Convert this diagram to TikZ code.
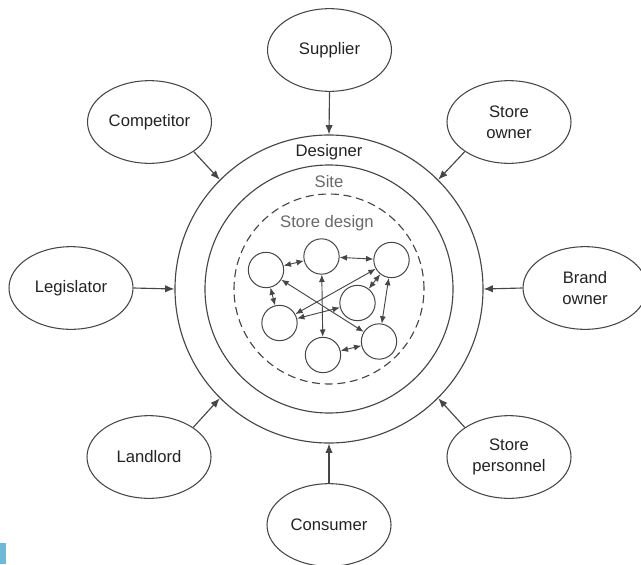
\documentclass[tikz,border=0pt]{standalone}
\usepackage{fontspec}
\setmainfont{Liberation Sans}
\usepackage{tikz}
\usetikzlibrary{arrows.meta, positioning, shapes.geometric}

\definecolor{linegray}{RGB}{70,70,70}
\definecolor{inkgray}{RGB}{35,35,35}
\definecolor{labelgray}{RGB}{105,105,105}
\definecolor{markblue}{RGB}{110,184,218}

\begin{document}
\begin{tikzpicture}[x=0.75pt,y=0.75pt,yscale=-1,xscale=1,
  actor/.style={draw=linegray, line width=0.8pt, ellipse, minimum width=93pt, minimum height=62pt, inner sep=0pt, align=center, text=inkgray, font=\fontsize{12.5}{15.5}\selectfont},
  ring/.style={draw=linegray, line width=0.85pt, circle, inner sep=0pt},
  ringlabel/.style={inner sep=0.75pt, font=\fontsize{12.5}{15}\selectfont},
  cell/.style={draw=linegray, line width=0.75pt, fill=white, circle, minimum size=26.5pt, inner sep=0pt},
  feed/.style={draw=linegray, line width=0.85pt, -{Latex[length=7pt,width=5.5pt]}},
  link/.style={draw=linegray, line width=0.7pt, {Latex[length=5.5pt,width=4.5pt]}-{Latex[length=5.5pt,width=4.5pt]}}]
\useasboundingbox (0,0) rectangle (641,564);

%Shape: Rings
\node[ring, minimum size=231pt] (designer) at (329,289) {};
\node[ring, minimum size=186pt] (site) at (329,289) {};
\node[ring, dash pattern=on 6pt off 3.5pt, minimum size=142.5pt] (storedesign) at (329,289) {};

% Text Node
\node[ringlabel, text=inkgray] (designerlbl) at (329,152) {Designer};
\node[ringlabel, text=labelgray] (sitelbl) at (329,182) {Site};
\node[ringlabel, text=labelgray] (storedesignlbl) at (327,223) {Store design};

%Shape: Actors
\node[actor] (supplier) at (329.5,50) {Supplier};
\node[actor] (competitor) at (149.5,122) {Competitor};
\node[actor] (storeowner) at (509,122) {Store\\owner};
\node[actor] (legislator) at (71,288) {Legislator};
\node[actor] (brandowner) at (585,288) {Brand\\owner};
\node[actor] (landlord) at (149,457) {Landlord};
\node[actor] (personnel) at (509,457) {Store\\personnel};
\node[actor] (consumer) at (329,525) {Consumer};

%Straight Lines: into the designer ring
\draw[feed] (supplier.south) -- (designer.north);
\draw[feed] (competitor.south east) -- (designer.135);
\draw[feed] (storeowner.south west) -- (designer.45);
\draw[feed] (legislator.east) -- (designer.west);
\draw[feed] (brandowner.west) -- (designer.east);
\draw[feed] (landlord.north east) -- (designer.225);
\draw[feed] (personnel.north west) -- (designer.315);
\draw[feed] (consumer.north) -- (designer.south);

%Shape: Small circles
\node[cell] (c1) at (266,270) {};
\node[cell] (c2) at (321.5,256.5) {};
\node[cell] (c3) at (391.5,260) {};
\node[cell] (c4) at (357.5,303) {};
\node[cell] (c5) at (279.5,323) {};
\node[cell] (c6) at (323,355) {};
\node[cell] (c7) at (379,341.5) {};

%Straight Lines: between small circles
\foreach \a/\b in {c1/c2, c2/c3, c1/c5, c2/c6, c3/c5, c4/c5, c1/c7, c3/c4, c3/c7, c6/c7}
  \draw[link] (\a) -- (\b);

%Shape: Rectangle
\fill[markblue] (0,543) rectangle (6,564);

\end{tikzpicture}
\end{document}
